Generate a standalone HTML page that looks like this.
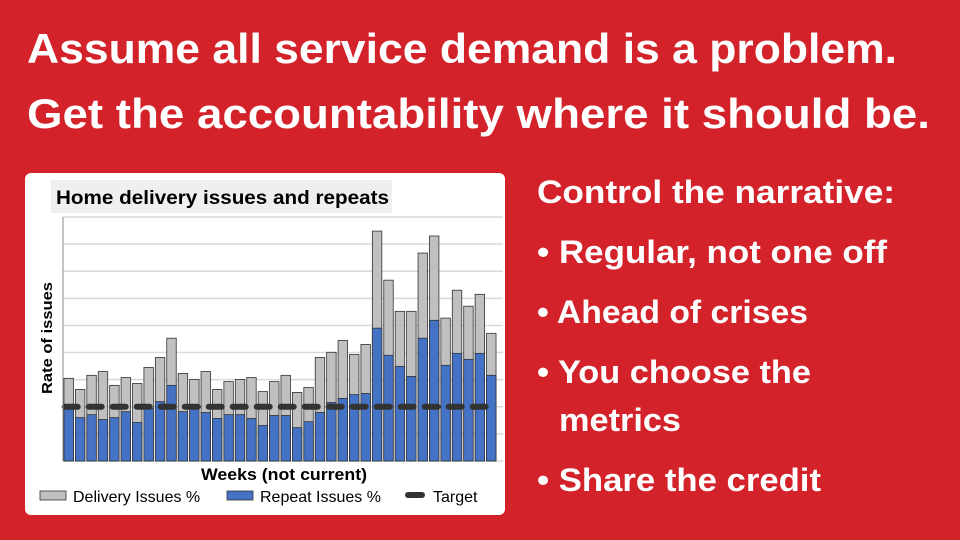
<!DOCTYPE html>
<html><head><meta charset="utf-8"><style>
html,body{margin:0;padding:0;background:#d3222a;}
svg{display:block;font-family:"Liberation Sans",sans-serif;}
</style></head><body>
<svg id="slide" width="960" height="540" viewBox="0 0 960 540" xmlns="http://www.w3.org/2000/svg">
<rect x="0" y="0" width="960" height="540" fill="#d3222a"/>
<text x="27" y="63" font-size="42" font-weight="bold" fill="#fff" textLength="870" lengthAdjust="spacingAndGlyphs">Assume all service demand is a problem.</text>
<text x="27" y="128" font-size="42" font-weight="bold" fill="#fff" textLength="903" lengthAdjust="spacingAndGlyphs">Get the accountability where it should be.</text>

<g fill="#fff" font-weight="bold" font-size="32">
<text x="537" y="203" textLength="358" lengthAdjust="spacingAndGlyphs">Control the narrative:</text>
<text x="537" y="263" textLength="350" lengthAdjust="spacingAndGlyphs">• Regular, not one off</text>
<text x="537" y="323" textLength="271" lengthAdjust="spacingAndGlyphs">• Ahead of crises</text>
<text x="537" y="383" textLength="274" lengthAdjust="spacingAndGlyphs">• You choose the</text>
<text x="559" y="431" textLength="122" lengthAdjust="spacingAndGlyphs">metrics</text>
<text x="537" y="491" textLength="284" lengthAdjust="spacingAndGlyphs">• Share the credit</text>
</g>

<g id="chart">
<rect x="25" y="173" width="480" height="342" rx="6" fill="#fff"/>
<rect x="51" y="180" width="341" height="33" fill="#efefef"/>
<text x="56" y="204" font-size="19" font-weight="bold" fill="#000" textLength="333" lengthAdjust="spacingAndGlyphs">Home delivery issues and repeats</text>
<g id="grid"></g>
<g id="bars"></g>
<g id="target"></g>
<line x1="63" y1="217" x2="63" y2="461" stroke="#888" stroke-width="1"/>
<text transform="translate(52,338) rotate(-90)" text-anchor="middle" font-size="15" font-weight="bold" fill="#000" textLength="112" lengthAdjust="spacingAndGlyphs">Rate of issues</text>
<text x="284" y="480" text-anchor="middle" font-size="17" font-weight="bold" fill="#000" textLength="166" lengthAdjust="spacingAndGlyphs">Weeks (not current)</text>
<g font-size="16" fill="#000">
<g><rect x="40" y="491" width="26" height="9" fill="#c0c0c0" stroke="#333" stroke-width="0.8"/><text x="73" y="502">Delivery Issues %</text></g>
<g><rect x="227" y="491" width="26" height="9" fill="#4472c4" stroke="#333" stroke-width="0.8"/><text x="260" y="502">Repeat Issues %</text></g>
<g><line x1="408" y1="495" x2="422" y2="495" stroke="#333" stroke-width="6" stroke-linecap="round"/><text x="433" y="502">Target</text></g>
</g>
</g>
</svg>
<script>
const weeks = Array.from({length:38},(_,i)=>'W'+(i+1));
const deliveryTotal = [3.05,2.64,3.16,3.30,2.79,3.08,2.86,3.45,3.82,4.53,3.23,3.01,3.30,2.64,2.93,3.01,3.08,2.56,2.93,3.16,2.53,2.71,3.82,4.01,4.45,3.93,4.30,8.48,6.67,5.52,5.52,7.67,8.30,5.27,6.30,5.71,6.15,4.71];
const repeatIssues = [1.94,1.60,1.71,1.53,1.60,1.82,1.42,1.94,2.19,2.79,1.82,1.94,1.79,1.57,1.71,1.71,1.57,1.31,1.68,1.68,1.23,1.45,1.79,2.16,2.31,2.45,2.49,4.90,3.90,3.49,3.12,4.53,5.19,3.53,3.97,3.75,3.97,3.16];
const targetValue = [2];
const yTicks = [0,1,2,3,4,5,6,7,8,9];

const NS='http://www.w3.org/2000/svg';
const x0=63,x1=497,yBase=461,yTop=217,yMax=9;
const y=v=>yBase-(v/yMax)*(yBase-yTop);
const band=(x1-x0)/weeks.length;
const xc=i=>x0+band*(i+0.5);
const bw=band*0.83;
function mk(tag,attrs,parent){const e=document.createElementNS(NS,tag);for(const k in attrs)e.setAttribute(k,attrs[k]);parent.appendChild(e);return e;}
const grid=document.getElementById('grid');
yTicks.forEach(t=>{
  const l=mk('line',{x1:x0,x2:503,y1:y(t),y2:y(t),stroke:'#d9d9d9','stroke-width':1.5},grid);
  
  
});
const bars=document.getElementById('bars');
weeks.forEach((w,i)=>{
  const g=mk('rect',{x:xc(i)-bw/2,y:y(deliveryTotal[i]),width:bw,height:yBase-y(deliveryTotal[i]),fill:'#c0c0c0',stroke:'#333','stroke-width':0.8},bars);
  
  
  const b=mk('rect',{x:xc(i)-bw/2,y:y(repeatIssues[i]),width:bw,height:yBase-y(repeatIssues[i]),fill:'#4472c4',stroke:'#333','stroke-width':0.8},bars);
  
  
});
const tg=document.getElementById('target');
const tl=mk('line',{x1:xc(0)-4,x2:xc(weeks.length-1)+4,y1:y(targetValue[0]),y2:y(targetValue[0]),stroke:'#333','stroke-width':6,'stroke-linecap':'round','stroke-dasharray':'13 11'},tg);


</script>
</body></html>
